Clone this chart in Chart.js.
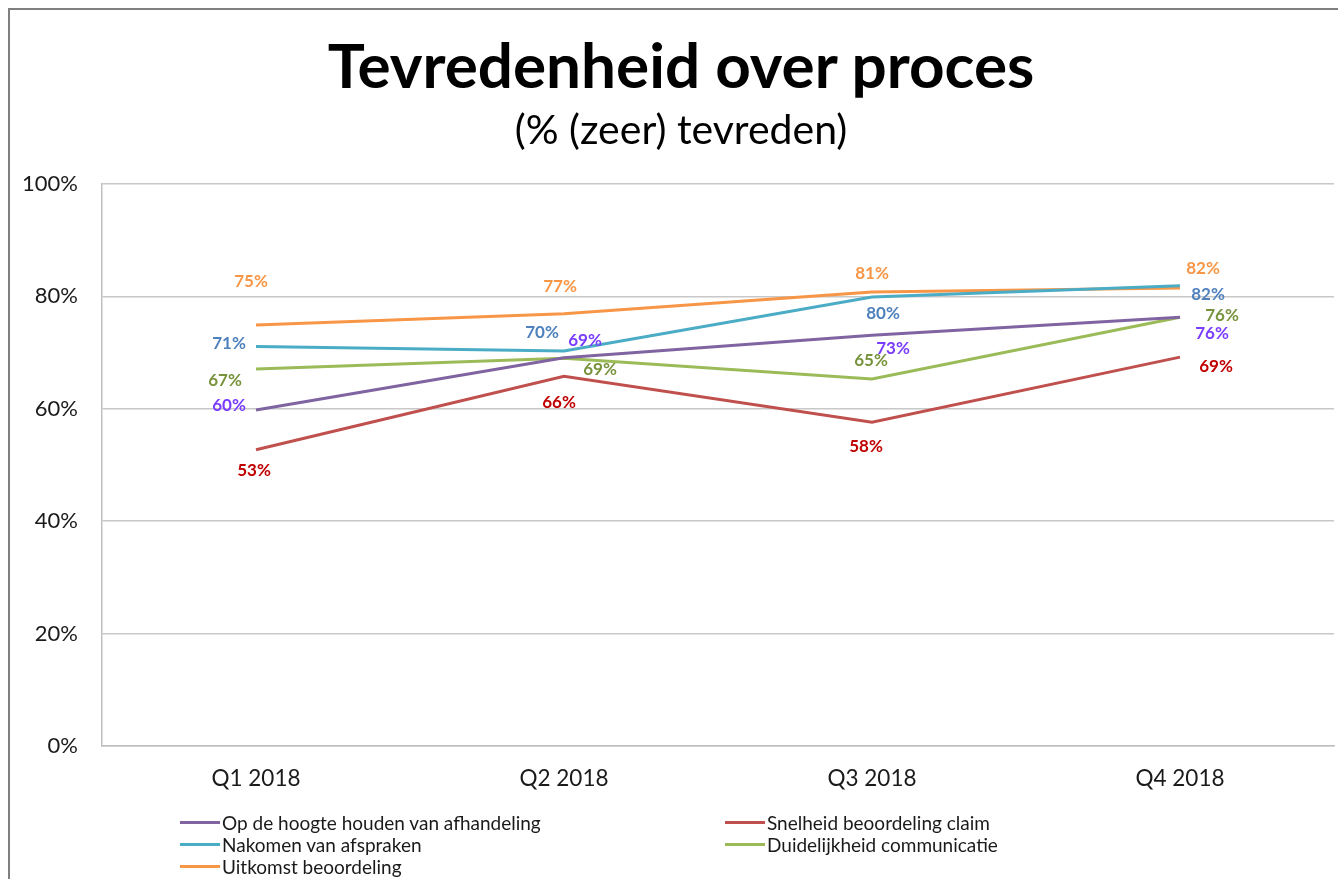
<!DOCTYPE html>
<html>
<head>
<meta charset="utf-8">
<script src="https://cdn.jsdelivr.net/npm/chart.js@4.4.0/dist/chart.umd.min.js"></script>
<style>
  html, body { margin: 0; padding: 0; background: #fff; }
  #wrap { position: relative; width: 1338px; height: 879px; overflow: hidden; background: #fff; }
  #frame { position: absolute; left: 8px; top: 8px; width: 1400px; height: 1000px; border-top: 2px solid #7f7f7f; border-left: 2px solid #7f7f7f; box-sizing: border-box; }
  #c { position: absolute; left: 0; top: 0; }
  .title { position: absolute; left: 0; width: 1362px; text-align: center; font-family: Lato, sans-serif; color: #000; line-height: 1.2; }
  #t1 { top: 27px; font-size: 62px; font-weight: 700; }
  #t2 { top: 104px; font-size: 41px; font-weight: 400; }
  #legend { position: absolute; left: 180px; top: 811px; font-family: Lato, "Open Sans", sans-serif; font-size: 19px; color: #1a1a1a; }
  .li { position: absolute; white-space: nowrap; display: flex; align-items: center; height: 22px; }
  .li span.sw { display: inline-block; width: 40px; height: 3px; margin-right: 2px; }
</style>
</head>
<body>
<div id="wrap">
  <div id="frame"></div>
  <canvas id="c" width="1338" height="879"></canvas>
  <div class="title" id="t1">Tevredenheid over proces</div>
  <div class="title" id="t2">(% (zeer) tevreden)</div>
  <div id="legend"></div>
</div>
<script>
// ---- data ----
const categories = ["Q1 2018", "Q2 2018", "Q3 2018", "Q4 2018"];
const seriesNames = [
  "Op de hoogte houden van afhandeling",
  "Snelheid beoordeling claim",
  "Nakomen van afspraken",
  "Duidelijkheid communicatie",
  "Uitkomst beoordeling"
];
const hoogteHouden = [59.8, 69.1, 73.1, 76.3];
const snelheid = [52.7, 65.8, 57.6, 69.2];
const nakomen = [71.1, 70.3, 79.9, 81.9];
const duidelijkheid = [67.1, 69.0, 65.3, 76.3];
const uitkomst = [74.9, 76.9, 80.8, 81.5];
const yTicks = [0, 20, 40, 60, 80, 100];

// ---- styles ----
const lineColors = ["#8064A2", "#C0504D", "#4BACC6", "#9BBB59", "#F79646"];
const labelColors = ["#7A3CFF", "#C00000", "#4F81BD", "#77933C", "#F79646"];
// label offsets (dx, dy) relative to each point, per series
const labelOffsets = [
  [[-27, -4], [21, -17], [21, 13], [32, 16]],
  [[-2, 21], [-5, 26], [-6, 24], [36, 9]],
  [[-27, -3], [-22, -18], [11, 17], [28, 9]],
  [[-31, 12], [36, 11], [-1, -18], [42, -2]],
  [[-5, -44], [-4, -27], [0, -18], [23, -19]]
];

const seriesValues = [hoogteHouden, snelheid, nakomen, duidelijkheid, uitkomst];

const datasets = seriesValues.map((vals, i) => ({
  label: seriesNames[i],
  data: vals,
  borderColor: lineColors[i],
  backgroundColor: lineColors[i],
  borderWidth: 3,
  pointRadius: 0,
  tension: 0,
  fill: false
}));

const labelPlugin = {
  id: 'pointLabels',
  afterDatasetsDraw(chart) {
    const ctx = chart.ctx;
    ctx.save();
    ctx.font = 'bold 17px Lato, sans-serif';
    ctx.textAlign = 'center';
    ctx.textBaseline = 'middle';
    chart.data.datasets.forEach((ds, i) => {
      const meta = chart.getDatasetMeta(i);
      meta.data.forEach((pt, j) => {
        const off = labelOffsets[i][j];
        ctx.fillStyle = labelColors[i];
        ctx.fillText(Math.round(ds.data[j]) + '%', pt.x + off[0], pt.y + off[1]);
      });
    });
    ctx.restore();
  }
};

new Chart(document.getElementById('c'), {
  type: 'line',
  data: { labels: categories, datasets },
  options: {
    responsive: false,
    animation: false,
    layout: { padding: { top: 184, right: 4, bottom: 0, left: 0 } },
    plugins: { legend: { display: false }, tooltip: { enabled: false }, title: { display: false } },
    scales: {
      x: {
        offset: true,
        grid: { display: false, drawTicks: false },
        border: { display: true, color: '#BFBFBF', width: 1.5 },
        ticks: { color: '#1a1a1a', font: { family: 'Lato', size: 22.5 }, padding: 19 },
        afterFit(s) { s.height = 133; }
      },
      y: {
        min: 0, max: 100,
        afterBuildTicks(s) { s.ticks = yTicks.map(v => ({ value: v })); },
        grid: { color: '#C8C8C8', lineWidth: 1.5, drawTicks: false },
        border: { display: true, color: '#BFBFBF', width: 1.5 },
        ticks: { color: '#1a1a1a', font: { family: 'Lato', size: 22 }, padding: 24, callback: v => v + '%' },
        afterFit(s) { s.width = 102; }
      }
    }
  },
  plugins: [labelPlugin]
});

// HTML legend (two columns, row-major)
const leg = document.getElementById('legend');
seriesNames.forEach((name, i) => {
  const d = document.createElement('div');
  d.className = 'li';
  d.style.left = (i % 2 === 0 ? 0 : 545) + 'px';
  d.style.top = (Math.floor(i / 2) * 22) + 'px';
  d.innerHTML = '<span class="sw" style="background:' + lineColors[i] + '"></span>' + name;
  leg.appendChild(d);
});
</script>
</body>
</html>
